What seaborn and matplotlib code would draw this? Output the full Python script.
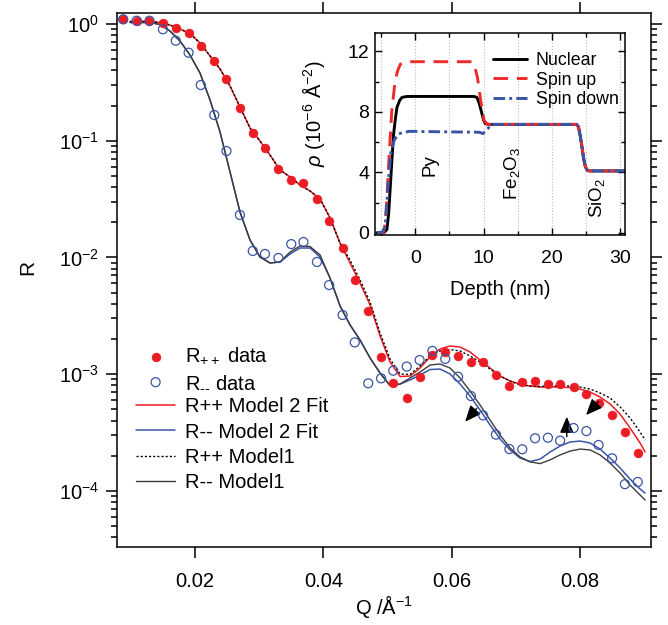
import matplotlib
matplotlib.use('Agg')
import matplotlib.pyplot as plt
import seaborn as sns
from matplotlib.ticker import LogLocator, NullLocator, NullFormatter, MultipleLocator

# ---- reflectivity data ----
q_data = [0.0088, 0.0109, 0.0129, 0.0150, 0.0170, 0.0190, 0.0209, 0.0230, 0.0249, 0.0270,
          0.0290, 0.0309, 0.0330, 0.0350, 0.0369, 0.0390, 0.0409, 0.0430, 0.0449, 0.0470,
          0.0490, 0.0509, 0.0530, 0.0550, 0.0570, 0.0590, 0.0610, 0.0630, 0.0649, 0.0669,
          0.0690, 0.0710, 0.0730, 0.0750, 0.0769, 0.0790, 0.0810, 0.0829, 0.0850, 0.0870,
          0.0890]
r_pp_data = [1.097, 1.067, 1.067, 1.026, 0.919, 0.833, 0.652, 0.485, 0.338, 0.190,
             0.117, 0.0871, 0.0569, 0.0461, 0.0431, 0.0317, 0.0205, 0.0120, 0.0064, 0.00349,
             0.00141, 0.000834, 0.000628, 0.000950, 0.00146, 0.00154, 0.00144, 0.00126, 0.00126, 0.000982,
             0.000791, 0.000855, 0.000873, 0.000822, 0.000822, 0.000771, 0.000674, 0.000562, 0.000444, 0.000321,
             0.000210]
r_mm_data = [1.097, 1.067, 1.067, 0.901, 0.719, 0.568, 0.300, 0.166, 0.0816, 0.0231,
             0.01135, 0.0107, 0.00989, 0.0130, 0.01355, 0.00914, 0.0058, 0.00321, 0.00187, 0.000834,
             0.000920, 0.00107, 0.00116, 0.00132, 0.00158, 0.00135, 0.000950, 0.000649, 0.000443, 0.000303,
             0.000228, 0.000227, 0.000282, 0.000285, 0.000269, 0.000345, 0.000325, 0.000247, 0.000190, 0.000114,
             0.000119]

# ---- model curves ----
q_fit = [0.00987, 0.01143, 0.01299, 0.01454, 0.01610, 0.01766, 0.01922, 0.02078, 0.02234, 0.02390,
         0.02546, 0.02701, 0.02857, 0.03013, 0.03169, 0.03325, 0.03481, 0.03637, 0.03793, 0.03949,
         0.04104, 0.04260, 0.04416, 0.04572, 0.04728, 0.04884, 0.05040, 0.05196, 0.05352, 0.05507,
         0.05663, 0.05819, 0.05975, 0.06131, 0.06287, 0.06443, 0.06599, 0.06754, 0.06910, 0.07066,
         0.07222, 0.07378, 0.07534, 0.07690, 0.07846, 0.08002, 0.08157, 0.08313, 0.08469, 0.08625,
         0.08781, 0.08937, 0.09015]
r_pp_model2 = [1.051, 1.051, 1.051, 1.030, 0.980, 0.906, 0.829, 0.687, 0.532, 0.412,
               0.294, 0.1945, 0.1285, 0.0994, 0.0754, 0.0561, 0.0489, 0.0417, 0.0371, 0.0317,
               0.0218, 0.01328, 0.00896, 0.00603, 0.00391, 0.00212, 0.00127, 0.000953, 0.000963, 0.001127,
               0.001402, 0.001641, 0.001741, 0.001706, 0.001547, 0.001321, 0.001127, 0.000963, 0.000873, 0.000822,
               0.000791, 0.000775, 0.000775, 0.000775, 0.000767, 0.000745, 0.000702, 0.000636, 0.000554, 0.000455,
               0.000345, 0.000257, 0.000215]
r_mm_model2 = [1.030, 1.030, 1.030, 0.990, 0.871, 0.715, 0.542, 0.380, 0.2233, 0.1187,
               0.0539, 0.0245, 0.01410, 0.01007, 0.00896, 0.00914, 0.01070, 0.01204, 0.01204, 0.01007,
               0.00667, 0.00384, 0.00264, 0.00196, 0.001374, 0.001021, 0.000798, 0.000822, 0.000891, 0.000982,
               0.001095, 0.001105, 0.001002, 0.000822, 0.000649, 0.000492, 0.000366, 0.000278, 0.000224, 0.000191,
               0.000178, 0.000187, 0.000215, 0.000242, 0.000262, 0.000267, 0.000257, 0.000228, 0.000191, 0.000157,
               0.000126, 0.0001035, 0.0000957]
r_pp_model1 = [1.051, 1.051, 1.051, 1.030, 0.980, 0.906, 0.829, 0.687, 0.532, 0.412,
               0.294, 0.1945, 0.1285, 0.0994, 0.0754, 0.0561, 0.0489, 0.0417, 0.0371, 0.0317,
               0.0218, 0.01328, 0.00950, 0.00640, 0.00415, 0.00225, 0.001346, 0.001002, 0.000993, 0.001173,
               0.001429, 0.001578, 0.001625, 0.001578, 0.001429, 0.001270, 0.001105, 0.000963, 0.000873, 0.000806,
               0.000791, 0.000783, 0.000791, 0.000791, 0.000791, 0.000775, 0.000745, 0.000689, 0.000624, 0.000523,
               0.000421, 0.000319, 0.000272]
r_mm_model1 = [1.030, 1.030, 1.030, 0.990, 0.871, 0.715, 0.542, 0.380, 0.2233, 0.1187,
               0.0539, 0.0245, 0.01410, 0.01007, 0.00896, 0.00914, 0.01112, 0.01252, 0.01240, 0.01049,
               0.00667, 0.00384, 0.00264, 0.00196, 0.001374, 0.001021, 0.000798, 0.000822, 0.000926, 0.001042,
               0.001197, 0.001221, 0.001127, 0.000926, 0.000716, 0.000543, 0.000404, 0.000301, 0.000233, 0.000195,
               0.000177, 0.000171, 0.000184, 0.000203, 0.000219, 0.000228, 0.000224, 0.000203, 0.000173, 0.000142,
               0.000112, 0.000092, 0.0000834]

# ---- SLD depth profiles for the inset ----
depth_nuc = [-5.6, -4.6, -4.15, -3.9, -3.66, -3.4, -3.17, -2.9, -2.68, -2.3, -1.95, -1.2, 8.6, 9.03,
             9.4, 9.76, 10.0, 10.25, 10.8, 23.6, 23.9, 24.15, 24.4, 24.65, 24.9, 25.2, 25.5, 30.7]
rho_nuc = [0.0, 0.0, 0.22, 1.3, 3.06, 5.0, 6.56, 7.6, 8.3, 8.75, 8.96, 9.02, 9.02, 8.95,
           8.5, 7.87, 7.45, 7.22, 7.17, 7.17, 7.0, 6.4, 5.68, 4.9, 4.37, 4.12, 4.09, 4.09]
depth_up = [-5.6, -4.66, -4.4, -4.17, -3.78, -3.44, -2.95, -2.6, -2.2, -1.22, 8.3, 8.7, 9.1,
            9.58, 10.07, 10.56, 23.6, 23.9, 24.15, 24.4, 24.65, 24.9, 25.2, 25.5, 30.7]
rho_up = [0.0, 0.0, 0.6, 2.2, 5.5, 8.1, 10.05, 10.7, 11.15, 11.32, 11.32, 11.0, 10.27,
          8.74, 7.43, 7.17, 7.17, 7.0, 6.4, 5.68, 4.9, 4.37, 4.12, 4.09, 4.09]
depth_down = [-5.6, -4.8, -4.4, -4.0, -3.6, -3.1, -2.4, -0.93, 9.4, 9.9, 10.6, 11.1,
              23.6, 23.9, 24.15, 24.4, 24.65, 24.9, 25.2, 25.5, 30.7]
rho_down = [0.0, 0.05, 0.43, 3.06, 5.25, 6.12, 6.56, 6.71, 6.65, 6.56, 6.88, 7.17,
            7.17, 7.0, 6.4, 5.68, 4.9, 4.37, 4.12, 4.09, 4.09]

# arrows marking the change between models: (tail, head)
arrows = [((0.06391, 0.000509), (0.06210, 0.000391)),
          ((0.07794, 0.000291), (0.07794, 0.000431)),
          ((0.08287, 0.000580), (0.08095, 0.000446))]

layer_labels = [('Py', 2.2, 4.5), ('Fe$_2$O$_3$', 14.1, 3.9), ('SiO$_2$', 26.6, 2.3)]

red = '#ec1c24'
blue = '#3a55a5'
grey = '#3c3c3c'

sns.set_theme(style='ticks', rc={'axes.edgecolor': 'black', 'xtick.color': 'black',
                                 'ytick.color': 'black', 'text.color': 'black',
                                 'axes.labelcolor': 'black'})
plt.rcParams['font.family'] = ['Liberation Sans', 'DejaVu Sans']
plt.rcParams['mathtext.fontset'] = 'custom'
plt.rcParams['mathtext.rm'] = 'Liberation Sans'
plt.rcParams['mathtext.it'] = 'Liberation Sans:italic'
plt.rcParams['mathtext.default'] = 'regular'
plt.rcParams['axes.unicode_minus'] = False

fig = plt.figure(figsize=(6.68, 6.25), dpi=100)
ax = fig.add_axes([116.7 / 668, 1 - 547 / 625, 534.3 / 668, 534.3 / 625])

sns.lineplot(x=q_fit, y=r_pp_model2, ax=ax, color=red, lw=1.1, estimator=None, sort=False,
             label='R++ Model 2 Fit')
sns.lineplot(x=q_fit, y=r_mm_model2, ax=ax, color=blue, lw=1.1, estimator=None, sort=False,
             label='R-- Model 2 Fit')
sns.lineplot(x=q_fit, y=r_pp_model1, ax=ax, color='black', lw=1.0, estimator=None, sort=False,
             label='R++ Model1')
ax.lines[-1].set_dashes((1.5, 1.5))
sns.lineplot(x=q_fit, y=r_mm_model1, ax=ax, color=grey, lw=1.0, estimator=None, sort=False,
             label='R-- Model1')

sns.scatterplot(x=q_data, y=r_pp_data, ax=ax, color=red, s=42, edgecolor=red, linewidth=0.3,
                label='R$_{++}$ data', zorder=3)
sns.scatterplot(x=q_data, y=r_mm_data, ax=ax, facecolors='none', edgecolor=blue, s=42,
                linewidth=0.9, label='R$_{\\text{--}}$ data', zorder=4)

for tail, head in arrows:
    ax.annotate('', xy=head, xytext=tail,
                arrowprops=dict(arrowstyle='-|>,head_length=0.7,head_width=0.3', color='black',
                                lw=1.0, shrinkA=0, shrinkB=0, mutation_scale=14))

ax.set_yscale('log')
ax.set_xlim(0.007794, 0.091068)
ax.set_ylim(3.30e-5, 1.25)
ax.set_xticks([0.02, 0.04, 0.06, 0.08])
ax.set_xticklabels(['0.02', '0.04', '0.06', '0.08'])
ax.xaxis.set_minor_locator(NullLocator())
ax.yaxis.set_major_locator(LogLocator(base=10, numticks=10))
ax.yaxis.set_minor_locator(LogLocator(base=10, subs=[2, 3, 4, 5, 6, 7, 8, 9], numticks=20))
ax.yaxis.set_minor_formatter(NullFormatter())
ax.tick_params(which='major', direction='out', length=7.7, width=1.1, labelsize=14.5,
               top=True, right=True)
ax.tick_params(which='minor', direction='out', length=4, width=1.1, top=True, right=True)
ax.tick_params(axis='x', pad=10)
ax.tick_params(axis='y', pad=5)
for sp in ax.spines.values():
    sp.set_linewidth(1.1)
ax.set_xlabel('Q /Å$^{-1}$', fontsize=14.5, labelpad=2)
ax.set_ylabel('R', fontsize=15)
ax.yaxis.set_label_coords(-0.149, 0.524)

handles, labels = ax.get_legend_handles_labels()
order = ['R$_{++}$ data', 'R$_{\\text{--}}$ data', 'R++ Model 2 Fit', 'R-- Model 2 Fit',
         'R++ Model1', 'R-- Model1']
hmap = dict(zip(labels, handles))
ax.legend([hmap[k] for k in order], order, loc='upper left', bbox_to_anchor=(0.037, 0.376),
          frameon=False, fontsize=14.5, handlelength=1.9, handletextpad=0.5,
          labelspacing=0.3, borderpad=0, borderaxespad=0, scatterpoints=1)

# ---- inset: depth profiles ----
axin = fig.add_axes([375 / 668, 1 - 235 / 625, 250 / 668, 201.7 / 625])
axin.set_axisbelow(True)
axin.xaxis.grid(True, which='both', color='#bdbdbd', linestyle=':', linewidth=0.8)

sns.lineplot(x=depth_nuc, y=rho_nuc, ax=axin, color='black', lw=2.1, estimator=None,
             sort=False, label='Nuclear')
sns.lineplot(x=depth_up, y=rho_up, ax=axin, color='#ee2a2a', lw=2.1, estimator=None,
             sort=False, label='Spin up')
axin.lines[-1].set_dashes((5, 3))
sns.lineplot(x=depth_down, y=rho_down, ax=axin, color=blue, lw=2.1, estimator=None,
             sort=False, label='Spin down')
axin.lines[-1].set_dashes((4, 1.4, 1, 1.4))

for txt, dx, dy in layer_labels:
    axin.text(dx, dy, txt, rotation=90, ha='center', va='center', fontsize=13.5)

axin.set_xlim(-5.9, 30.7)
axin.set_ylim(-0.15, 13.2)
axin.xaxis.set_major_locator(MultipleLocator(10))
axin.xaxis.set_minor_locator(MultipleLocator(5))
axin.yaxis.set_major_locator(MultipleLocator(4))
axin.yaxis.set_minor_locator(MultipleLocator(2))
axin.tick_params(which='major', direction='in', length=5, width=1.0, labelsize=14,
                 top=True, right=True)
axin.tick_params(which='minor', direction='in', length=3, width=1.0, top=True, right=True)
axin.tick_params(axis='x', pad=11)
axin.tick_params(axis='y', pad=4)
for sp in axin.spines.values():
    sp.set_linewidth(1.1)
axin.set_xlabel('Depth (nm)', fontsize=14.5, labelpad=9)
axin.set_ylabel('$\\mathit{\\rho}$ (10$^{-6}$ Å$^{-2}$)', fontsize=14.5)
axin.yaxis.set_label_coords(-0.192, 0.6)
axin.legend(loc='upper right', bbox_to_anchor=(0.975, 0.905), frameon=False, fontsize=12.8,
            handlelength=1.9, handletextpad=0.5, labelspacing=0.12, borderpad=0,
            borderaxespad=0)

fig.savefig('out.png', dpi=100)
